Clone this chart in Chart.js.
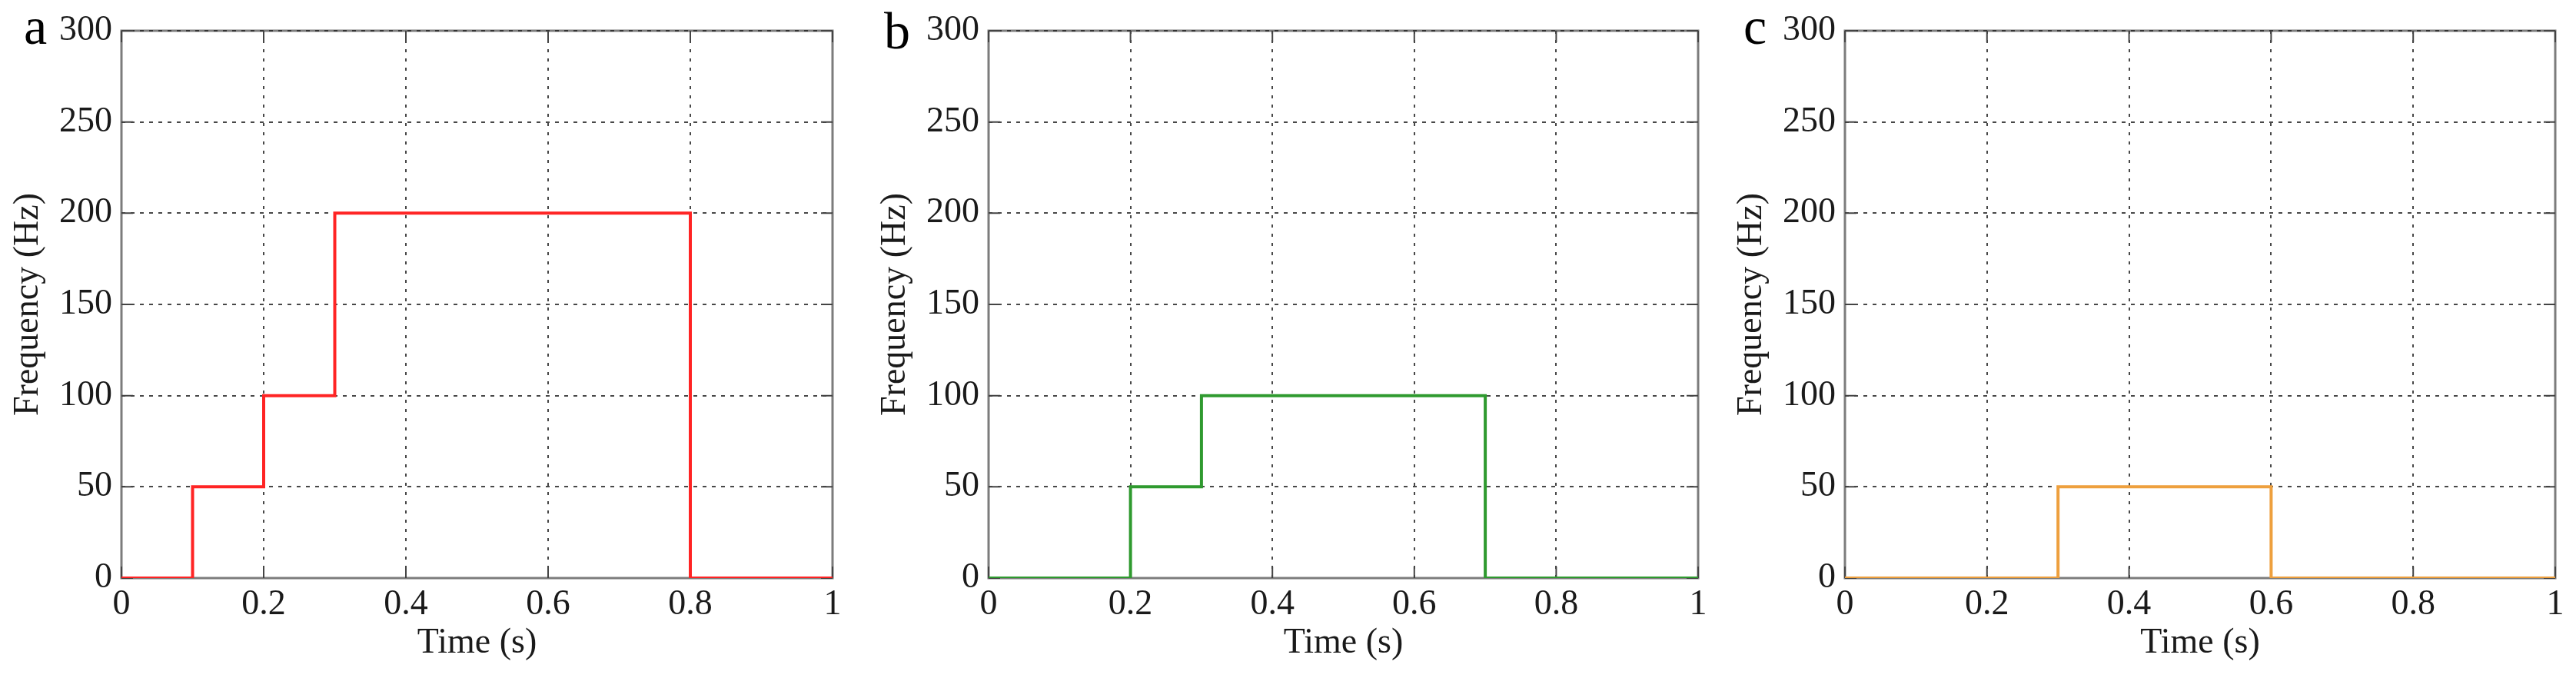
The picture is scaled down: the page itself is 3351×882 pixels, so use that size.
<!DOCTYPE html>
<html>
<head>
<meta charset="utf-8">
<title>Frequency steps</title>
<script src="https://cdn.jsdelivr.net/npm/chart.js@4.4.1/dist/chart.umd.min.js"></script>
<style>
    html, body { margin: 0; padding: 0; background: #ffffff; }
    body { width: 3351px; height: 882px; position: relative; overflow: hidden; }
    .panel { position: absolute; top: 0; height: 882px; }
</style>
</head>
<body>
<div class="panel" id="wrap-a"><canvas id="chart-a"></canvas></div>
<div class="panel" id="wrap-b"><canvas id="chart-b"></canvas></div>
<div class="panel" id="wrap-c"><canvas id="chart-c"></canvas></div>

<script>
// step inputs, one per panel (time in s, frequency in Hz)
const timesA = [0, 0.1, 0.2, 0.3, 0.8, 1];
const freqA = [0, 50, 100, 200, 0, 0];
const timesB = [0, 0.2, 0.3, 0.7, 1];
const freqB = [0, 50, 100, 0, 0];
const timesC = [0, 0.3, 0.6, 1];
const freqC = [0, 50, 0, 0];

const xTickStep = 0.2;
const yTickStep = 50;
const xRange = [0, 1];
const yRange = [0, 300];
const xTitle = 'Time (s)';
const yTitle = 'Frequency (Hz)';

document.addEventListener('DOMContentLoaded', function() {
    const colors = {
        red: '#ff2424',
        green: '#2f9a2f',
        orange: '#eea03e',
        text: '#1a1a1a',
        box: '#7c7c7c',
        grid: 'rgba(40, 40, 40, 0.85)',
        tick: '#444444'
    };
    const serif = '"Liberation Serif", "Times New Roman", serif';

    // plot box in page pixels, plus where the panel letter sits
    const panels = [
        { id: 'a', letter: 'a', times: timesA, freq: freqA, color: colors.red, left: 158, right: 1083, letterDx: -127, letterY: 57 },
        { id: 'b', letter: 'b', times: timesB, freq: freqB, color: colors.green, left: 1286, right: 2209, letterDx: -136, letterY: 63 },
        { id: 'c', letter: 'c', times: timesC, freq: freqC, color: colors.orange, left: 2400, right: 3324, letterDx: -132, letterY: 57 }
    ];
    const yAxisWidth = 158;
    const rightPad = 27;
    const topPad = 40;
    const xAxisHeight = 130;

    // matlab-like frame: grey box under the grid, short solid ticks pointing in
    const framePlugin = {
        id: 'frame',
        beforeDraw(chart) {
            const a = chart.chartArea;
            const ctx = chart.ctx;
            ctx.save();
            ctx.strokeStyle = colors.box;
            ctx.lineWidth = 3;
            ctx.strokeRect(a.left, a.top, a.right - a.left, a.bottom - a.top);
            ctx.restore();
        },
        beforeDatasetsDraw(chart) {
            const a = chart.chartArea;
            const ctx = chart.ctx;
            const len = 15;
            ctx.save();
            ctx.strokeStyle = colors.tick;
            ctx.lineWidth = 2;
            ctx.beginPath();
            chart.scales.x.ticks.forEach(t => {
                const px = chart.scales.x.getPixelForValue(t.value);
                ctx.moveTo(px, a.bottom);
                ctx.lineTo(px, a.bottom - len);
                ctx.moveTo(px, a.top);
                ctx.lineTo(px, a.top + len);
            });
            chart.scales.y.ticks.forEach(t => {
                const py = chart.scales.y.getPixelForValue(t.value);
                ctx.moveTo(a.left, py);
                ctx.lineTo(a.left + len, py);
                ctx.moveTo(a.right, py);
                ctx.lineTo(a.right - len, py);
            });
            ctx.stroke();
            ctx.restore();
        },
        afterDraw(chart, args, opts) {
            const ctx = chart.ctx;
            ctx.save();
            ctx.fillStyle = '#000000';
            ctx.font = '68px ' + serif;
            ctx.textBaseline = 'alphabetic';
            ctx.fillText(opts.letter, chart.chartArea.left + opts.dx, opts.y);
            ctx.restore();
        }
    };

    const gridColor = function(last) {
        return function(context) {
            if (context.index === 0) return 'rgba(0,0,0,0)';
            if (last && context.index === context.scale.ticks.length - 1) return 'rgba(0,0,0,0)';
            return colors.grid;
        };
    };

    panels.forEach(p => {
        const wrap = document.getElementById('wrap-' + p.id);
        const canvasLeft = p.left - yAxisWidth;
        const canvasWidth = p.right - p.left + yAxisWidth + rightPad;
        wrap.style.left = canvasLeft + 'px';
        wrap.style.width = canvasWidth + 'px';

        const points = p.times.map((t, i) => ({ x: t, y: p.freq[i] }));

        new Chart(document.getElementById('chart-' + p.id), {
            type: 'line',
            data: {
                datasets: [{
                    data: points,
                    borderColor: p.color,
                    borderWidth: 4,
                    stepped: 'before',
                    pointRadius: 0,
                    fill: false,
                    borderCapStyle: 'butt',
                    borderJoinStyle: 'miter'
                }]
            },
            options: {
                responsive: true,
                maintainAspectRatio: false,
                animation: false,
                events: [],
                layout: {
                    padding: { top: topPad, right: rightPad, left: 0, bottom: 0 }
                },
                plugins: {
                    legend: { display: false },
                    tooltip: { enabled: false },
                    frame: { letter: p.letter, dx: p.letterDx, y: p.letterY }
                },
                scales: {
                    x: {
                        type: 'linear',
                        min: xRange[0],
                        max: xRange[1],
                        afterFit: function(scale) { scale.height = xAxisHeight; },
                        ticks: {
                            stepSize: xTickStep,
                            padding: 7,
                            color: colors.text,
                            maxRotation: 0,
                            font: { family: serif, size: 46, lineHeight: 1.2 },
                            callback: function(value) {
                                return String(+value.toFixed(1));
                            }
                        },
                        grid: {
                            color: gridColor(true),
                            lineWidth: 2,
                            drawTicks: false
                        },
                        border: { display: false, dash: [4, 8] },
                        title: {
                            display: true,
                            text: xTitle,
                            color: colors.text,
                            font: { family: serif, size: 46, lineHeight: 1.2 },
                            padding: { top: 0, bottom: 17 }
                        }
                    },
                    y: {
                        type: 'linear',
                        min: yRange[0],
                        max: yRange[1],
                        afterFit: function(scale) { scale.width = yAxisWidth; },
                        ticks: {
                            stepSize: yTickStep,
                            padding: 12,
                            color: colors.text,
                            font: { family: serif, size: 46, lineHeight: 1.2 }
                        },
                        grid: {
                            color: gridColor(false),
                            lineWidth: 2,
                            drawTicks: false
                        },
                        border: { display: false, dash: [5, 7] },
                        title: {
                            display: true,
                            text: yTitle,
                            color: colors.text,
                            font: { family: serif, size: 46, lineHeight: 1.2 },
                            padding: { top: 9, bottom: 0 }
                        }
                    }
                }
            },
            plugins: [framePlugin]
        });
    });
});
</script>
</body>
</html>
